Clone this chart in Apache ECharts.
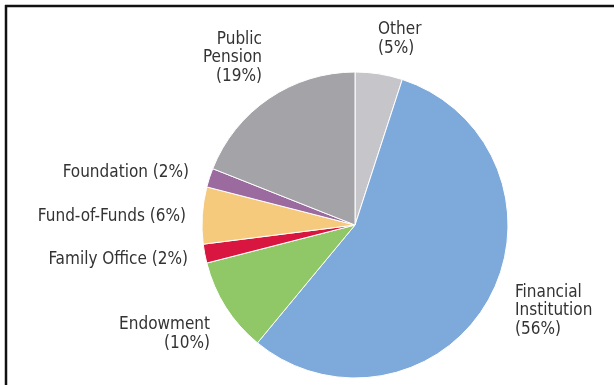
<!DOCTYPE html>
<html>
<head>
<meta charset="utf-8">
<script src="https://cdn.jsdelivr.net/npm/echarts@6/dist/echarts.min.js"></script>
<style>
html,body{margin:0;padding:0;background:#fff;}
#c{width:614px;height:385px;}
</style>
</head>
<body>
<div id="c"></div>
<script>
var categories = ['Other', 'Financial Institution', 'Endowment', 'Family Office', 'Fund-of-Funds', 'Foundation', 'Public Pension'];
var values = [5, 56, 10, 2, 6, 2, 19];
var labelTexts = ['Other\n(5%)', 'Financial\nInstitution\n(56%)', 'Endowment\n(10%)', 'Family Office (2%)', 'Fund-of-Funds (6%)', 'Foundation (2%)', 'Public\nPension\n(19%)'];
var colors = ['#c6c5ca', '#7eaadb', '#90c767', '#d8163f', '#f6ca7c', '#9b6a9f', '#a3a3a8'];

// label anchor placement (layout only)
var labelPos = [
  {x: 378, y: 39, align: 'left'},
  {x: 515, y: 311, align: 'left'},
  {x: 210, y: 334, align: 'right'},
  {x: 188, y: 260, align: 'right'},
  {x: 186, y: 217, align: 'right'},
  {x: 189, y: 173, align: 'right'},
  {x: 262, y: 58, align: 'right'}
];

var chart = echarts.init(document.getElementById('c'), null, {renderer: 'canvas'});
chart.setOption({
  animation: false,
  backgroundColor: '#fff',
  graphic: [
    {type: 'line', shape: {x1: 5, y1: 6, x2: 614, y2: 6}, style: {stroke: '#111', lineWidth: 2.5}},
    {type: 'line', shape: {x1: 6, y1: 5, x2: 6, y2: 385}, style: {stroke: '#111', lineWidth: 2.5}}
  ],
  series: [{
    type: 'pie',
    center: [355, 225],
    radius: 153,
    startAngle: 90,
    clockwise: true,
    avoidLabelOverlap: false,
    itemStyle: {borderColor: '#fff', borderWidth: 1},
    label: {
      show: true,
      position: 'outside',
      fontFamily: 'DejaVu Sans Condensed',
      fontSize: 17,
      lineHeight: 18.5,
      color: '#333',
      formatter: function (p) { return labelTexts[p.dataIndex]; }
    },
    labelLine: {show: false},
    labelLayout: function (p) {
      var lp = labelPos[p.dataIndex];
      return {x: lp.x, y: lp.y, align: lp.align, verticalAlign: 'middle', hideOverlap: false};
    },
    emphasis: {disabled: true},
    data: categories.map(function (c, i) {
      return {name: c, value: values[i], itemStyle: {color: colors[i]}};
    })
  }]
});
</script>
</body>
</html>
